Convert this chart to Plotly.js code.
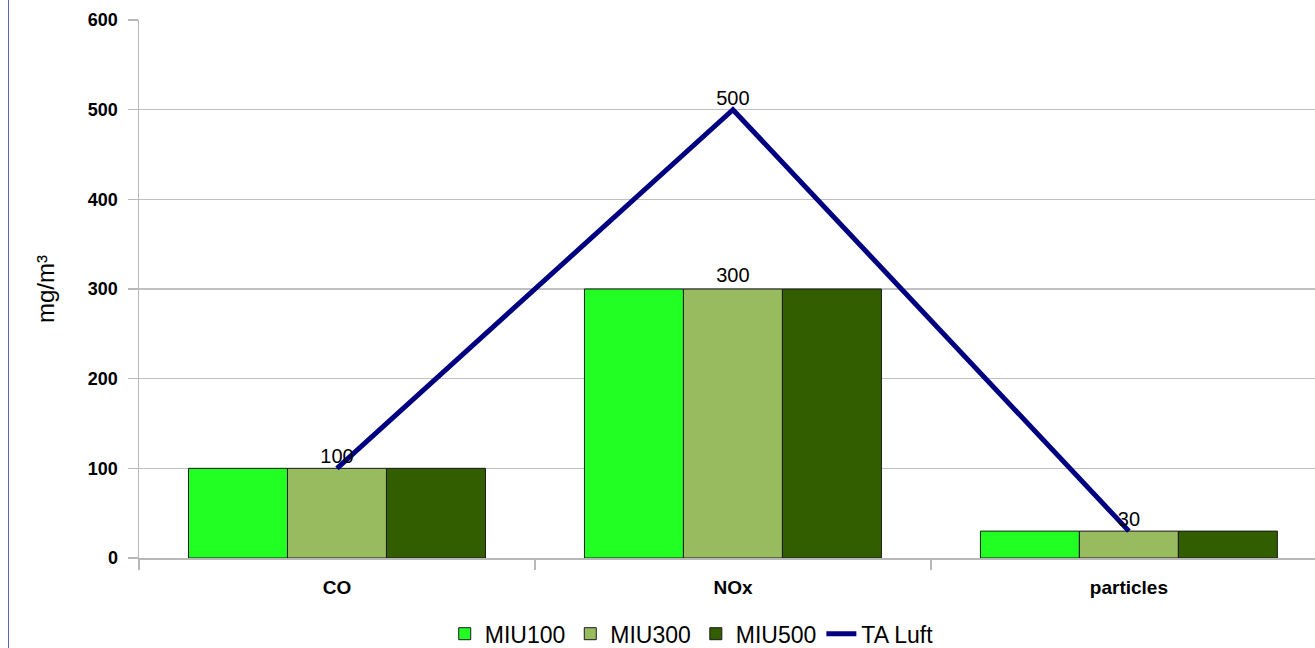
<!DOCTYPE html>
<html>
<head>
<meta charset="utf-8">
<script src="https://cdn.plot.ly/plotly-3.0.1.min.js"></script>
<style>
html,body{margin:0;padding:0;background:#fff;}
#chart{width:1315px;height:648px;}
#edge{position:absolute;left:8px;top:0;width:1px;height:648px;background:#5a64c8;}
</style>
</head>
<body>
<div id="chart"></div>
<div id="edge"></div>
<script>
var categories = ["CO", "NOx", "particles"];
var miu100 = [100, 300, 30];
var miu300 = [100, 300, 30];
var miu500 = [100, 300, 30];
var taLuft = [100, 500, 30];
var miu300Labels = ["", "300", ""];
var taLuftLabels = ["100", "500", "30"];
var seriesNames = ["MIU100", "MIU300", "MIU500", "TA Luft"];
var yTicks = [0, 100, 200, 300, 400, 500, 600];

var FONT = "Liberation Sans, Arial, sans-serif";
var labelFont = {family: FONT, size: 20, color: "#000"};
var barLine = {color: "#1a1a1a", width: 1};

var traces = [
  {type: "bar", name: seriesNames[0], x: categories, y: miu100,
   marker: {color: "#22ff22", line: barLine}},
  {type: "bar", name: seriesNames[1], x: categories, y: miu300,
   marker: {color: "#99bb5f", line: barLine},
   text: miu300Labels, textposition: "outside", textfont: labelFont, cliponaxis: false},
  {type: "bar", name: seriesNames[2], x: categories, y: miu500,
   marker: {color: "#335e00", line: barLine}},
  {type: "scatter", mode: "lines+text", name: seriesNames[3], x: categories, y: taLuft,
   line: {color: "#000080", width: 5},
   text: taLuftLabels, textposition: "top center", textfont: labelFont, cliponaxis: false}
];

var layout = {
  width: 1315, height: 648,
  margin: {l: 139, r: 0, t: 20, b: 90, autoexpand: false},
  paper_bgcolor: "#fff", plot_bgcolor: "#fff",
  barmode: "group", bargap: 0.25, bargroupgap: 0,
  showlegend: true,
  legend: {orientation: "h", x: 0.47, xanchor: "center", yref: "container", y: 0.022, yanchor: "middle",
           font: {family: FONT, size: 23, color: "#000"},
           traceorder: "normal", itemwidth: 30},
  xaxis: {
    type: "category", range: [-0.5, 2.47],
    showline: true, linecolor: "#b8b8b8", linewidth: 1.5,
    ticks: "outside", tickson: "boundaries", ticklen: 10, tickcolor: "#b8b8b8", tickwidth: 1.5,
    showgrid: false, zeroline: false,
    tickfont: {family: FONT, size: 19, color: "#000", weight: "bold"},
    ticklabelstandoff: 12
  },
  yaxis: {
    range: [0, 600], tickvals: yTicks, ticktext: yTicks.map(String),
    showline: true, linecolor: "#b8b8b8", linewidth: 1.5,
    ticks: "outside", ticklen: 10, tickcolor: "#b8b8b8", tickwidth: 1.5,
    showgrid: true, gridcolor: "#c0c0c0", gridwidth: 1.5, zeroline: false,
    tickfont: {family: FONT, size: 18, color: "#000", weight: "bold"},
    ticklabelstandoff: 6,
    title: {text: "mg/m³", font: {family: FONT, size: 24, color: "#000"}, standoff: 26}
  }
};

Plotly.newPlot("chart", traces, layout, {displayModeBar: false, staticPlot: true});
</script>
</body>
</html>
